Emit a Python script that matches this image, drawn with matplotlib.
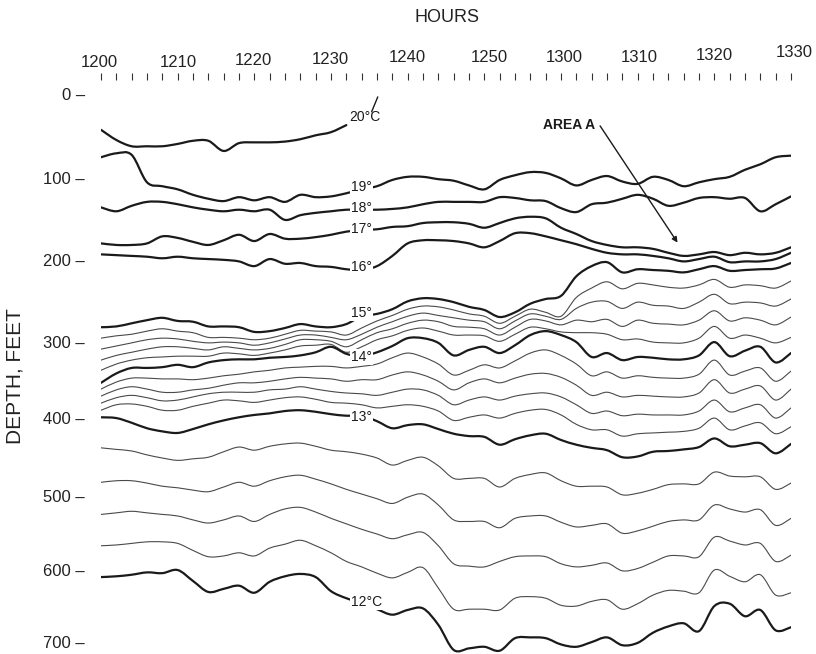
import matplotlib
matplotlib.use("Agg")
import matplotlib.pyplot as plt
from matplotlib.path import Path
from matplotlib.patches import PathPatch
from matplotlib.transforms import ScaledTranslation

plt.rcParams['font.family'] = ['Liberation Sans', 'DejaVu Sans']

# time axis: minutes after 1200 hours
minutes = [0, 2, 4, 6, 8, 10, 12, 14, 16, 18, 20, 22, 24, 26, 28, 30, 32, 34, 36, 38, 40, 42, 44,
           46, 48, 50, 52, 54, 56, 58, 60, 62, 64, 66, 68, 70, 72, 74, 76, 78, 80, 82, 84, 86, 88, 90]
hour_ticks = [0, 10, 20, 30, 40, 50, 60, 70, 80, 90]
hour_labels = ["1200", "1210", "1220", "1230", "1240", "1250", "1300", "1310", "1320", "1330"]
depth_ticks = [0, 100, 200, 300, 400, 500, 600, 700]

# isotherm depths (feet), one value per entry of minutes
iso_20 = [37, 50, 58, 58, 58, 55, 51, 51, 64, 54, 53, 53, 52, 49, 44, 40, 31]  # stops at 1232
iso_19 = [72, 67, 69, 104, 109, 113, 120, 125, 128, 123, 127, 123, 129, 120, 123, 122, 118, 113, 109, 101, 97, 97, 100,
          102, 108, 113, 101, 95, 91, 92, 99, 108, 101, 96, 103, 106, 97, 101, 109, 104, 100, 97, 88, 81, 72, 70]
iso_18 = [136, 141, 134, 129, 129, 132, 136, 139, 141, 139, 141, 139, 152, 146, 143, 141, 139, 139, 139, 138, 136, 132, 129,
          129, 129, 129, 123, 124, 127, 128, 137, 142, 132, 130, 125, 120, 125, 134, 130, 124, 123, 125, 124, 141, 132, 122]
iso_17 = [182, 184, 184, 182, 173, 175, 180, 184, 178, 171, 179, 170, 176, 176, 174, 171, 167, 165, 164, 161, 160, 156, 155,
          155, 157, 162, 156, 150, 148, 150, 162, 170, 179, 184, 187, 187, 189, 194, 198, 196, 193, 197, 194, 196, 194, 187]
iso_16 = [196, 197, 198, 199, 201, 199, 201, 202, 203, 205, 211, 202, 208, 207, 211, 212, 215, 216, 211, 198, 182, 178, 178,
          179, 182, 187, 179, 169, 169, 173, 178, 183, 189, 194, 196, 196, 198, 201, 205, 202, 199, 206, 205, 205, 202, 194]
iso_15 = [289, 288, 284, 280, 277, 281, 282, 288, 288, 289, 295, 294, 290, 285, 288, 289, 285, 275, 272, 266, 256, 252, 253,
          257, 263, 267, 276, 270, 259, 253, 249, 224, 211, 206, 219, 215, 216, 217, 219, 215, 211, 217, 216, 215, 214, 207]
iso_14_8 = [303, 300, 298, 294, 291, 294, 296, 302, 302, 303, 305, 303, 298, 293, 294, 295, 299, 290, 281, 274, 266, 262, 263,
            267, 272, 275, 284, 275, 266, 270, 275, 251, 239, 231, 240, 233, 235, 238, 239, 235, 228, 238, 235, 236, 239, 230]
iso_14_6 = [317, 313, 309, 305, 303, 304, 307, 309, 308, 309, 312, 309, 304, 299, 299, 302, 305, 298, 289, 282, 275, 271, 274,
            277, 280, 282, 291, 281, 272, 275, 279, 265, 257, 256, 265, 257, 261, 262, 265, 257, 247, 259, 257, 258, 262, 253]
iso_14_4 = [331, 325, 321, 317, 314, 314, 316, 318, 314, 316, 318, 316, 311, 305, 305, 307, 314, 305, 296, 291, 284, 280, 282,
            288, 289, 291, 299, 289, 279, 281, 286, 280, 282, 279, 288, 280, 284, 285, 286, 280, 268, 281, 277, 280, 286, 276]
iso_14_2 = [344, 336, 331, 328, 327, 326, 326, 326, 322, 323, 325, 322, 318, 313, 312, 311, 321, 314, 305, 300, 293, 290, 294,
            299, 299, 300, 307, 298, 289, 291, 295, 296, 296, 298, 305, 304, 308, 309, 309, 303, 288, 303, 299, 303, 309, 302]
iso_14 = [360, 348, 341, 341, 340, 337, 340, 334, 331, 330, 330, 328, 327, 325, 321, 314, 323, 326, 321, 313, 303, 303, 309,
          325, 318, 314, 322, 312, 299, 294, 299, 308, 327, 322, 331, 327, 328, 330, 330, 325, 308, 326, 319, 314, 334, 322]
iso_13_8 = [368, 359, 354, 354, 355, 355, 356, 354, 351, 349, 346, 344, 341, 340, 339, 339, 341, 339, 336, 328, 322, 327, 336,
            350, 344, 337, 341, 332, 322, 318, 325, 336, 351, 346, 354, 351, 353, 354, 354, 349, 331, 350, 345, 341, 358, 345]
iso_13_6 = [377, 369, 365, 368, 372, 372, 369, 367, 363, 360, 360, 358, 355, 353, 354, 355, 358, 356, 356, 350, 346, 350, 358,
            369, 360, 355, 360, 354, 349, 348, 353, 363, 376, 372, 378, 376, 377, 378, 378, 373, 356, 373, 368, 364, 382, 368]
iso_13_4 = [386, 379, 376, 379, 383, 382, 378, 374, 372, 372, 372, 369, 368, 365, 368, 371, 373, 374, 376, 372, 368, 369, 376,
            388, 382, 378, 382, 377, 374, 373, 378, 388, 399, 396, 402, 400, 401, 401, 401, 396, 382, 397, 392, 388, 405, 392]
iso_13_2 = [395, 388, 387, 390, 395, 395, 390, 386, 382, 383, 385, 382, 379, 378, 381, 385, 386, 388, 392, 390, 388, 390, 396,
            408, 404, 401, 405, 399, 395, 394, 401, 413, 420, 420, 428, 425, 424, 423, 422, 418, 405, 420, 415, 411, 425, 416]
iso_13 = [404, 405, 411, 418, 422, 424, 419, 413, 408, 404, 401, 399, 396, 395, 397, 400, 402, 402, 409, 418, 414, 413, 419,
          425, 428, 429, 439, 432, 427, 425, 433, 439, 443, 446, 455, 454, 448, 447, 445, 442, 431, 441, 439, 437, 450, 438]
iso_12_8 = [443, 445, 447, 452, 456, 459, 457, 455, 448, 442, 446, 441, 438, 437, 441, 446, 448, 451, 456, 465, 459, 455, 466,
            482, 482, 482, 493, 482, 477, 475, 485, 492, 492, 493, 503, 501, 496, 490, 489, 489, 474, 479, 480, 480, 496, 488]
iso_12_6 = [487, 485, 485, 488, 492, 494, 497, 499, 493, 487, 492, 485, 480, 478, 483, 489, 496, 502, 508, 514, 506, 502, 516,
            535, 537, 537, 545, 533, 530, 530, 538, 544, 542, 540, 552, 549, 543, 537, 535, 535, 516, 521, 525, 522, 542, 533]
iso_12_4 = [528, 526, 524, 526, 528, 530, 535, 539, 535, 530, 537, 528, 521, 519, 525, 533, 540, 547, 553, 559, 554, 551, 568,
            591, 594, 595, 588, 582, 581, 582, 591, 595, 593, 590, 600, 597, 589, 581, 581, 582, 557, 562, 567, 565, 588, 580]
iso_12_2 = [568, 567, 565, 563, 563, 565, 574, 582, 581, 577, 581, 571, 566, 561, 568, 577, 588, 595, 603, 609, 602, 596, 622,
            649, 649, 649, 650, 635, 633, 635, 644, 645, 639, 637, 649, 642, 631, 625, 626, 628, 599, 607, 614, 605, 631, 628]
iso_12 = [608, 607, 605, 602, 603, 599, 613, 627, 623, 619, 628, 614, 607, 604, 608, 626, 635, 641, 649, 656, 650, 648, 669,
          701, 699, 697, 702, 686, 685, 686, 694, 697, 691, 685, 695, 692, 679, 671, 667, 677, 645, 642, 658, 650, 676, 672]

thick_lines = [iso_19, iso_18, iso_17, iso_16, iso_15, iso_14, iso_13, iso_12]
thin_lines = [iso_14_8, iso_14_6, iso_14_4, iso_14_2, iso_13_8, iso_13_6, iso_13_4, iso_13_2,
              iso_12_8, iso_12_6, iso_12_4, iso_12_2]

# label text and where it sits (minutes, feet)
iso_labels = ["19°", "18°", "17°", "16°", "15°", "14°", "13°", "12°C"]
label_x = [34.0, 34.0, 34.0, 34.0, 34.0, 34.0, 34.0, 34.6]
label_y = [110, 137, 164, 212, 271, 327, 403, 640]


def smooth_path(xs, ys):
    # hand-drawn look: cubic bezier through every reading (catmull-rom tangents)
    n = len(xs)
    verts = [(xs[0], ys[0])]
    for i in range(n - 1):
        x0, y0 = (xs[i - 1], ys[i - 1]) if i > 0 else (xs[i], ys[i])
        x1, y1 = xs[i], ys[i]
        x2, y2 = xs[i + 1], ys[i + 1]
        x3, y3 = (xs[i + 2], ys[i + 2]) if i + 2 < n else (x2, y2)
        verts += [(x1 + (x2 - x0) / 6, y1 + (y2 - y0) / 6),
                  (x2 - (x3 - x1) / 6, y2 - (y3 - y1) / 6),
                  (x2, y2)]
    return Path(verts, [Path.MOVETO] + [Path.CURVE4] * (len(verts) - 1))


fig = plt.figure(figsize=(8.16, 6.54), dpi=100)
ax = fig.add_axes([101 / 816, 0, 690 / 816, 574 / 654])

for line in thin_lines:
    ax.add_patch(PathPatch(smooth_path(minutes, line), fill=False, ec='#4a4a4a', lw=0.8,
                           joinstyle='round', capstyle='round'))
for line in thick_lines:
    ax.add_patch(PathPatch(smooth_path(minutes, line), fill=False, ec='#1a1a1a', lw=1.6,
                           joinstyle='round', capstyle='round'))
ax.add_patch(PathPatch(smooth_path(minutes[:len(iso_20)], iso_20), fill=False, ec='#1a1a1a', lw=1.6,
                       joinstyle='round', capstyle='round'))

for txt, lx, ly in zip(iso_labels, label_x, label_y):
    ax.text(lx, ly, txt, ha='center', va='center', fontsize=10, color='#1a1a1a',
            bbox=dict(boxstyle='square,pad=0.08', fc='white', ec='none'), zorder=5)

ax.text(34.4, 21, "20°C", ha='center', va='center', fontsize=10, color='#1a1a1a')
ax.annotate("", xy=(36.1, -5), xytext=(35.3, 14),
            arrowprops=dict(arrowstyle='-', lw=1.0, color='#1a1a1a', shrinkA=0, shrinkB=0))

ax.text(61.0, 31, "AREA A", ha='center', va='center', fontsize=10, fontweight='bold', color='#1a1a1a')
ax.annotate("", xy=(75.2, 181), xytext=(65.1, 32),
            arrowprops=dict(arrowstyle='-|>', lw=1.0, color='#1a1a1a', mutation_scale=8,
                            shrinkA=0, shrinkB=0))

ax.set_xlim(0, 90)
ax.set_ylim(706.2, -26.6)

ax.xaxis.tick_top()
ax.set_xticks(hour_ticks)
ax.set_xticklabels(hour_labels)
ax.set_xticks(minutes, minor=True)
ax.tick_params(axis='x', which='both', top=True, bottom=False, direction='out',
               length=5, width=0.8, color='#333333', pad=5, labelsize=12, labelcolor='#222222')
ax.set_yticks(depth_ticks)
ax.set_yticklabels([f"{d} \u2013" for d in depth_ticks])
ax.tick_params(axis='y', which='major', left=True, length=0, pad=11.5,
               labelsize=12, labelcolor='#222222')
for s in ax.spines.values():
    s.set_visible(False)

# the drafted scales are a little uneven; nudge labels (pixels) to sit where the original has them
x_nudge = [(-2, 4), (1, 3.5), (-1, 1.5), (-1, 0.5), (0, -1), (5, -1), (3, -1), (2, -1), (0, -3.5), (3, -6)]
y_nudge = [-6.8, -1.1, 2.5, 6.2, 3.9, 3.5, -0.8, -7.1]
for lbl, (dx, dy) in zip(ax.get_xticklabels(), x_nudge):
    lbl.set_transform(lbl.get_transform() + ScaledTranslation(dx / 100, -dy / 100, fig.dpi_scale_trans))
for lbl, dy in zip(ax.get_yticklabels(), y_nudge):
    lbl.set_transform(lbl.get_transform() + ScaledTranslation(0, -dy / 100, fig.dpi_scale_trans))

fig.text(447 / 816, 1 - 18 / 654, "HOURS", ha='center', va='center', fontsize=13, color='#222222')
fig.text(15 / 816, 1 - 376 / 654, "DEPTH, FEET", ha='center', va='center', rotation=90,
         fontsize=15, color='#222222')

fig.savefig("out.png", dpi=100, facecolor='white')
